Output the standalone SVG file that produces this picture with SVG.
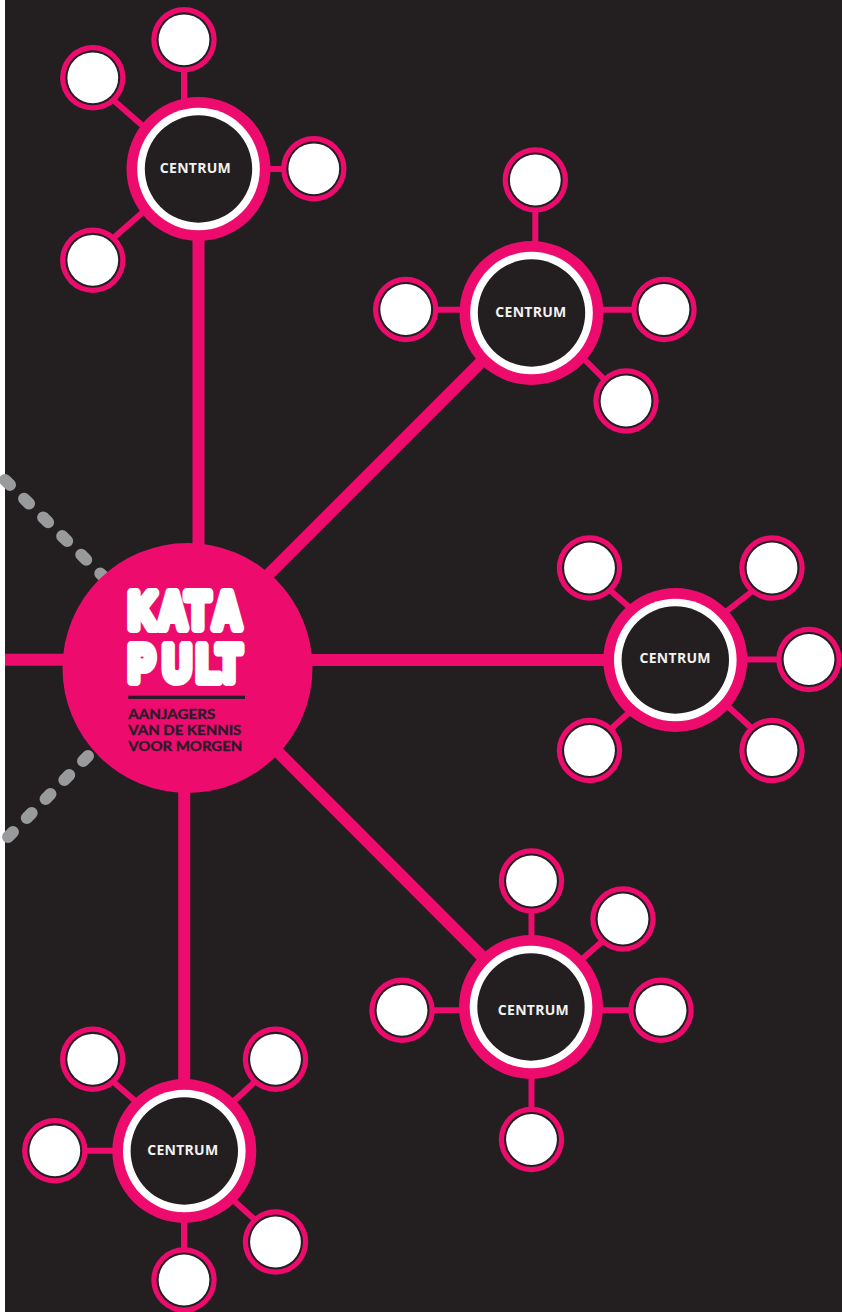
<svg xmlns="http://www.w3.org/2000/svg" width="842" height="1312" viewBox="0 0 842 1312">
<style>
.bg{fill:#231f20}
.main{stroke:#ed0c6e;stroke-width:12;fill:none}
.link{stroke:#ed0c6e;stroke-width:6;fill:none}
.dash{stroke:#999a9c;stroke-width:12;stroke-linecap:round;fill:none;stroke-dasharray:7 19.7}
.c1{fill:#ed0c6e}.c2{fill:#fff}.c3{fill:#231f20}
.s1{fill:#ed0c6e}.s2{fill:#231f20}.s3{fill:#fff}
.lab{font-family:"Open Sans","Liberation Sans",sans-serif;font-weight:700;font-size:14px;fill:#f2f2f2;text-anchor:middle}
.kp{font-family:"Liberation Sans",sans-serif;font-weight:700;font-size:50px;fill:#fff;stroke:#fff;stroke-width:10;stroke-linejoin:round}
.tag{font-family:"Lato","Liberation Sans",sans-serif;font-weight:700;font-size:13.5px;fill:#2b1a28;stroke:#2b1a28;stroke-width:.35}
</style>
<defs>
<g id="sat"><circle class="s1" r="32.7"/><circle class="s2" r="27.5"/><circle class="s3" r="25.4"/></g>
<g id="ctr"><circle class="c1" r="72"/><circle class="c2" r="61.300"/><circle class="c3" r="53.700"/></g>
</defs>
<rect width="842" height="1312" fill="#fff"/>
<rect class="bg" x="5" y="0" width="837" height="1312"/>
<g id="connectors">
<path class="dash" d="M5 480 L110 583"/>
<path class="dash" d="M88 756 L5 840"/>
<path class="main" d="M198.500 169V668M184.200 668V1151M5 659.700H187M187 660H675"/>
<path class="main" d="M250 593L500 343M255 729L485 959.500"/>
<path class="link" d="M184 40V169M107.500 95L149.200 131.600M107.500 243.300L149.200 206.400M314 169H198"/>
<path class="link" d="M535.300 180V313M405.700 309.700H531M664 309.700H531M609 384L579 354"/>
<path class="link" d="M604 585L636 613M759.600 585.500L720.400 616M809 659.500H675M605.800 733.400L635.800 706.600M757.400 733.500L722.600 701.500"/>
<path class="link" d="M531.500 881V1007M607.500 936.700L576.500 964M661 1010.300H531M402 1010.300H531M531.500 1139.500V1007"/>
<path class="link" d="M107.500 1076.700L141 1106M260.700 1076.600L227.600 1106.700M54.800 1150.800H184M260.700 1225L227.600 1195M184 1280V1151"/>
</g>
<g id="hub">
<circle class="c1" cx="187.500" cy="668" r="125"/>
<text class="kp" transform="scale(.78 1)" x="164.700 203.200 238.500 273" y="628">KATA</text>
<text class="kp" transform="scale(.78 1)" x="164.700 209 251.900 278.600" y="681">PULT</text>
<rect x="128.300" y="695.700" width="116.700" height="3.300" fill="#2b1a28"/>
<text class="tag" x="128.300" y="719.300" textLength="87" lengthAdjust="spacingAndGlyphs">AANJAGERS</text>
<text class="tag" x="128.300" y="735.300" textLength="113" lengthAdjust="spacingAndGlyphs">VAN DE KENNIS</text>
<text class="tag" x="128.300" y="751.300" textLength="114" lengthAdjust="spacingAndGlyphs">VOOR MORGEN</text>
</g>
<g id="centrum1"><use href="#ctr" x="198.500" y="169"/><text class="lab" x="195.300" y="173.300" textLength="71">CENTRUM</text>
<use href="#sat" x="184" y="39.800"/><use href="#sat" x="92.800" y="77.800"/><use href="#sat" x="92.800" y="260.300"/><use href="#sat" x="313.800" y="168.800"/></g>
<g id="centrum2"><use href="#ctr" x="531.500" y="313"/><text class="lab" x="530.800" y="317.300" textLength="71">CENTRUM</text>
<use href="#sat" x="535.300" y="180"/><use href="#sat" x="405.700" y="309.500"/><use href="#sat" x="664" y="309.500"/><use href="#sat" x="626" y="401"/></g>
<g id="centrum3"><use href="#ctr" x="675.300" y="660"/><text class="lab" x="675" y="663.300" textLength="71">CENTRUM</text>
<use href="#sat" x="589.500" y="568"/><use href="#sat" x="772" y="568"/><use href="#sat" x="809" y="659.500"/><use href="#sat" x="589.500" y="750.500"/><use href="#sat" x="772" y="750.500"/></g>
<g id="centrum4"><use href="#ctr" x="531" y="1007"/><text class="lab" x="533.300" y="1015" textLength="71">CENTRUM</text>
<use href="#sat" x="531.500" y="881"/><use href="#sat" x="623" y="919"/><use href="#sat" x="661" y="1010.300"/><use href="#sat" x="402" y="1010.300"/><use href="#sat" x="531.500" y="1139.500"/></g>
<g id="centrum5"><use href="#ctr" x="184.300" y="1151"/><text class="lab" x="182.700" y="1155" textLength="71">CENTRUM</text>
<use href="#sat" x="92.700" y="1059.300"/><use href="#sat" x="275.500" y="1059.300"/><use href="#sat" x="54.800" y="1150.800"/><use href="#sat" x="275.500" y="1242"/><use href="#sat" x="184" y="1280"/></g>
</svg>
